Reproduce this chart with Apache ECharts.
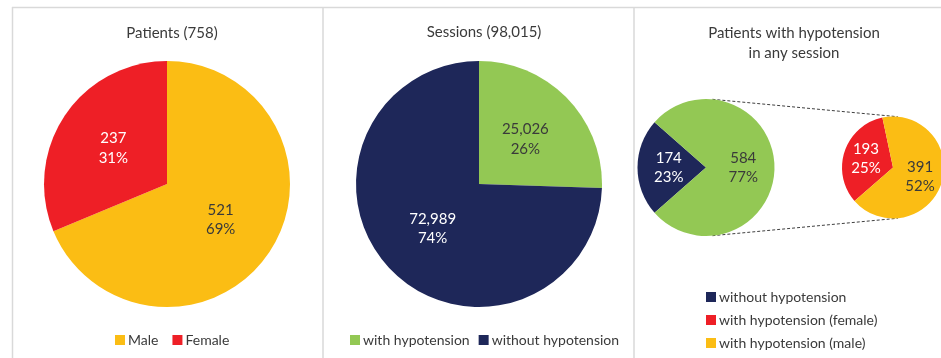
<!DOCTYPE html>
<html>
<head>
<meta charset="utf-8">
<script src="https://cdn.jsdelivr.net/npm/echarts@6/dist/echarts.min.js"></script>
<style>
  html, body { margin: 0; padding: 0; background: #ffffff; }
  #chart { width: 941px; height: 358px; }
</style>
</head>
<body>
<div id="chart"></div>
<script>
// Patients by sex
const sexNames = ['Male', 'Female'];
const sexValues = [521, 237];

// Dialysis sessions with / without hypotension
const sessionNames = ['with hypotension', 'without hypotension'];
const sessionValues = [25026, 72989];

// Patients with hypotension in any session (main pie), split by sex (secondary pie)
const anyNames = ['without hypotension', 'with hypotension'];
const anyValues = [174, 584];
const splitNames = ['with hypotension (female)', 'with hypotension (male)'];
const splitValues = [193, 391];

const titles = ['Patients (758)', 'Sessions (98,015)', 'Patients with hypotension\nin any session'];

const C = {
  yellow: '#FBBD14',
  red: '#EE1F26',
  green: '#93C854',
  navy: '#1E2759',
  text: '#3A3A3A',
  border: '#D9D9D9'
};
const FONT = 'Lato, "Open Sans", sans-serif';

const patientTotal = sexValues.reduce((a, b) => a + b, 0);
const fmtNum = v => v.toLocaleString('en-US');

// Geometry of the pie-of-pie pair
const mainC = [706, 167.5], mainR = 68.5;
const subC = [893, 167.5], subR = 51;

// External tangent lines joining the two circles
function tangents() {
  const dx = subC[0] - mainC[0];
  const th = Math.asin((mainR - subR) / dx);
  const s = Math.sin(th), c = Math.cos(th);
  return [
    [[mainC[0] + mainR * s, mainC[1] - mainR * c], [subC[0] + subR * s, subC[1] - subR * c]],
    [[mainC[0] + mainR * s, mainC[1] + mainR * c], [subC[0] + subR * s, subC[1] + subR * c]]
  ];
}

function labelFor(textColorFn, pctFn) {
  return {
    show: true,
    position: 'inner',
    fontFamily: FONT,
    fontSize: 15,
    lineHeight: 19.5,
    color: textColorFn,
    formatter: p => fmtNum(p.value) + '\n' + pctFn(p) + '%'
  };
}

function dataOf(names, values, colors, labelColors) {
  return names.map((n, i) => ({
    name: n,
    value: values[i],
    itemStyle: { color: colors[i] },
    label: { color: labelColors[i] }
  }));
}

const pieBase = {
  type: 'pie',
  clockwise: true,
  silent: true,
  animation: false,
  labelLine: { show: false },
  emphasis: { disabled: true }
};

const option = {
  backgroundColor: '#ffffff',
  animation: false,
  title: [
    { text: titles[0], left: 167, top: 18, textAlign: 'center' },
    { text: titles[1], left: 479, top: 17, textAlign: 'center' },
    { text: titles[2], left: 789, top: 18, textAlign: 'center' }
  ].map(t => Object.assign(t, {
    textStyle: { fontFamily: FONT, fontSize: 15, fontWeight: 'normal', color: C.text, lineHeight: 20 }
  })),
  legend: [
    { data: sexNames, left: 115, top: 332 },
    { data: sessionNames, left: 350, top: 332, itemGap: 9 },
    { data: ['without hypotension', 'with hypotension (female)', 'with hypotension (male)'],
      orient: 'vertical', left: 706, top: 289, itemGap: 7 }
  ].map(l => Object.assign({
    icon: 'rect',
    itemWidth: 10,
    itemHeight: 10,
    itemGap: 14,
    selectedMode: false,
    padding: 0,
    textStyle: { fontFamily: FONT, fontSize: 14, color: C.text, padding: [0, 0, 0, -2], lineHeight: 16 }
  }, l)),
  series: [
    Object.assign({}, pieBase, {
      name: 'Patients',
      center: [167, 184],
      radius: [0, 123],
      startAngle: 90,
      label: labelFor(C.text, p => Math.round(p.percent)),
      data: dataOf(sexNames, sexValues, [C.yellow, C.red], [C.text, '#ffffff'])
    }),
    Object.assign({}, pieBase, {
      name: 'Sessions',
      center: [479, 184],
      radius: [0, 123],
      startAngle: 90,
      label: labelFor(C.text, p => Math.round(p.percent)),
      data: dataOf(sessionNames, sessionValues, [C.green, C.navy], [C.text, '#ffffff'])
    }),
    Object.assign({}, pieBase, {
      name: 'Any session',
      center: mainC,
      radius: [0, mainR],
      startAngle: 90 - (270 - 180 * anyValues[0] / patientTotal),
      label: labelFor(C.text, p => Math.round(p.percent)),
      data: dataOf(anyNames, anyValues, [C.navy, C.green], ['#ffffff', C.text])
    }),
    Object.assign({}, pieBase, {
      name: 'By sex',
      center: subC,
      radius: [0, subR],
      startAngle: 221,
      label: labelFor(C.text, p => Math.round(100 * p.value / patientTotal)),
      data: dataOf(splitNames, splitValues, [C.red, C.yellow], ['#ffffff', C.text])
    })
  ],
  graphic: []
};

// Panel frames
const frameLines = [
  [12, 7.5, 941, 7.5],
  [12.5, 7, 12.5, 358],
  [323, 7, 323, 358],
  [634, 7, 634, 358]
];
frameLines.forEach(l => option.graphic.push({
  type: 'line', silent: true,
  shape: { x1: l[0], y1: l[1], x2: l[2], y2: l[3] },
  style: { stroke: C.border, lineWidth: 1.5 }
}));

// Dashed connectors between the two pies
tangents().forEach(t => option.graphic.push({
  type: 'line', silent: true,
  shape: { x1: t[0][0], y1: t[0][1], x2: t[1][0], y2: t[1][1] },
  style: { stroke: '#404040', lineWidth: 1, lineDash: [3, 2] }
}));

const chart = echarts.init(document.getElementById('chart'), null, { renderer: 'canvas' });
chart.setOption(option);
</script>
</body>
</html>
